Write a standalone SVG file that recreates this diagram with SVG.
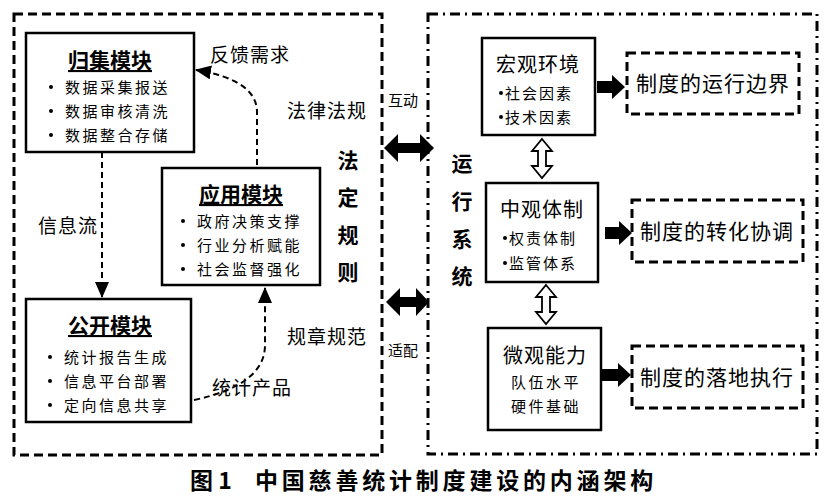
<svg xmlns="http://www.w3.org/2000/svg" width="830" height="502" viewBox="0 0 830 502">
<style>
text{font-family:"Noto Sans CJK SC","Liberation Sans",sans-serif;fill:#000}
.box{fill:#fff;stroke:#000;stroke-width:2.5}
.t{font-size:21px;font-weight:bold;text-anchor:middle}
.it{font-size:15px;letter-spacing:2.5px}
.lab{font-size:19px;letter-spacing:1px}
.dash{fill:none;stroke:#000;stroke-width:2;stroke-dasharray:6 4}
.db{fill:none;stroke:#000;stroke-width:3;stroke-dasharray:9 5}
.blk{fill:#000}
.hol{fill:#fff;stroke:#000;stroke-width:1.8}
.rt{font-size:20px;text-anchor:middle;letter-spacing:1px}
.bu{fill:#000}
</style>
<defs>
<marker id="ah2" markerWidth="16" markerHeight="14" refX="15" refY="7" orient="auto" markerUnits="userSpaceOnUse" viewBox="0 0 16 14"><path d="M0,0 L16,7 L0,14 z" fill="#000"/></marker>
</defs>
<rect x="14" y="14" width="368" height="441" class="db"/>
<rect x="428" y="14" width="389" height="440" fill="none" stroke="#000" stroke-width="3" stroke-dasharray="10 5 2 5"/>
<g id="guiji"><rect x="26" y="33" width="168" height="119" class="box"/>
<text x="110" y="68" class="t" text-decoration="underline">归集模块</text>
<circle class="bu" cx="51" cy="87" r="2"/><circle class="bu" cx="51" cy="111" r="2"/><circle class="bu" cx="51" cy="135" r="2"/>
<text x="65" y="93" class="it">数据采集报送</text><text x="65" y="117" class="it">数据审核清洗</text><text x="65" y="141" class="it">数据整合存储</text></g>
<g id="yingyong"><rect x="162" y="168" width="158" height="117" class="box"/>
<text x="241" y="202" class="t" text-decoration="underline">应用模块</text>
<circle class="bu" cx="183" cy="221" r="2"/><circle class="bu" cx="183" cy="245" r="2"/><circle class="bu" cx="183" cy="269" r="2"/>
<text x="197" y="227" class="it">政府决策支撑</text><text x="197" y="251" class="it">行业分析赋能</text><text x="197" y="275" class="it">社会监督强化</text></g>
<g id="gongkai"><rect x="26" y="299" width="165" height="123" class="box"/>
<text x="110" y="333" class="t" text-decoration="underline">公开模块</text>
<circle class="bu" cx="50" cy="357" r="2"/><circle class="bu" cx="50" cy="381" r="2"/><circle class="bu" cx="50" cy="405" r="2"/>
<text x="64" y="363" class="it">统计报告生成</text><text x="64" y="387" class="it">信息平台部署</text><text x="64" y="411" class="it">定向信息共享</text></g>
<g id="hongguan"><rect x="482" y="38" width="113" height="97" class="box"/>
<text x="538" y="72" class="rt">宏观环境</text>
<circle class="bu" cx="501" cy="93" r="2"/><circle class="bu" cx="501" cy="117" r="2"/>
<text x="505" y="99" class="it" style="letter-spacing:2px">社会因素</text><text x="505" y="123" class="it" style="letter-spacing:2px">技术因素</text></g>
<g id="zhongguan"><rect x="486" y="183" width="112" height="99" class="box"/>
<text x="542" y="217" class="rt">中观体制</text>
<circle class="bu" cx="505" cy="238" r="2"/><circle class="bu" cx="505" cy="263" r="2"/>
<text x="509" y="244" class="it" style="letter-spacing:2px">权责体制</text><text x="509" y="269" class="it" style="letter-spacing:2px">监管体系</text></g>
<g id="weiguan"><rect x="488" y="328" width="113" height="102" class="box"/>
<text x="545" y="363" class="rt">微观能力</text>
<text x="546" y="388" class="it" text-anchor="middle">队伍水平</text><text x="546" y="412" class="it" text-anchor="middle">硬件基础</text></g>
<g id="r1"><rect x="627" y="53" width="172" height="61" class="db"/><text x="713" y="91" class="rt" style="font-size:21px">制度的运行边界</text></g>
<g id="r2"><rect x="632" y="200" width="171" height="62" class="db"/><text x="717" y="239" class="rt" style="font-size:21px">制度的转化协调</text></g>
<g id="r3"><rect x="632" y="346" width="171" height="62" class="db"/><text x="717" y="385" class="rt" style="font-size:21px">制度的落地执行</text></g>
<g id="labels">
<text x="210" y="62" class="lab">反馈需求</text>
<text x="38" y="233" class="lab">信息流</text>
<text x="212" y="395" class="lab">统计产品</text>
<text x="287" y="118" class="lab">法律法规</text>
<text x="287" y="344" class="lab">规章规范</text>
<g font-size="21px" font-weight="bold" text-anchor="middle"><text x="348" y="168">法</text><text x="348" y="205">定</text><text x="348" y="243">规</text><text x="348" y="280">则</text>
<text x="462" y="171">运</text><text x="462" y="209">行</text><text x="462" y="247">系</text><text x="462" y="284">统</text></g>
<text x="388" y="106" font-size="15px">互动</text>
<text x="388" y="356" font-size="15px">适配</text>
<text x="190" y="489" font-size="23px" font-weight="bold">图 1</text>
<text x="255" y="489" font-size="23px" font-weight="bold" letter-spacing="3.8px">中国慈善统计制度建设的内涵架构</text>
</g>
<g id="connectors">
<path d="M102,152 V297" class="dash" marker-end="url(#ah2)"/>
<path d="M257,165 V112 Q257,80 196,70" class="dash" marker-end="url(#ah2)"/>
<path d="M194,400 Q265,385 265,345 V288" class="dash" marker-end="url(#ah2)"/>
<path class="blk" d="M384,148 L398,134 V143 H420 V134 L434,148 L420,162 V153 H398 V162 z"/>
<path class="blk" d="M386,302 L400,288 V297 H416 V288 L429,302 L416,316 V307 H400 V316 z"/>
<path class="hol" d="M542,139 L552,151 H546 V166 H552 L542,178 L532,166 H538 V151 H532 z"/>
<path class="hol" d="M546,285 L556,297 H550 V312 H556 L546,324 L536,312 H542 V297 H536 z"/>
<path class="blk" d="M597,81 H612 V75 L625,87 L612,99 V93 H597 z"/>
<path class="blk" d="M605,227 H619 V221 L632,233 L619,245 V239 H605 z"/>
<path class="blk" d="M602,369 H618 V363 L631,375 L618,387 V381 H602 z"/>
</g>
</svg>
